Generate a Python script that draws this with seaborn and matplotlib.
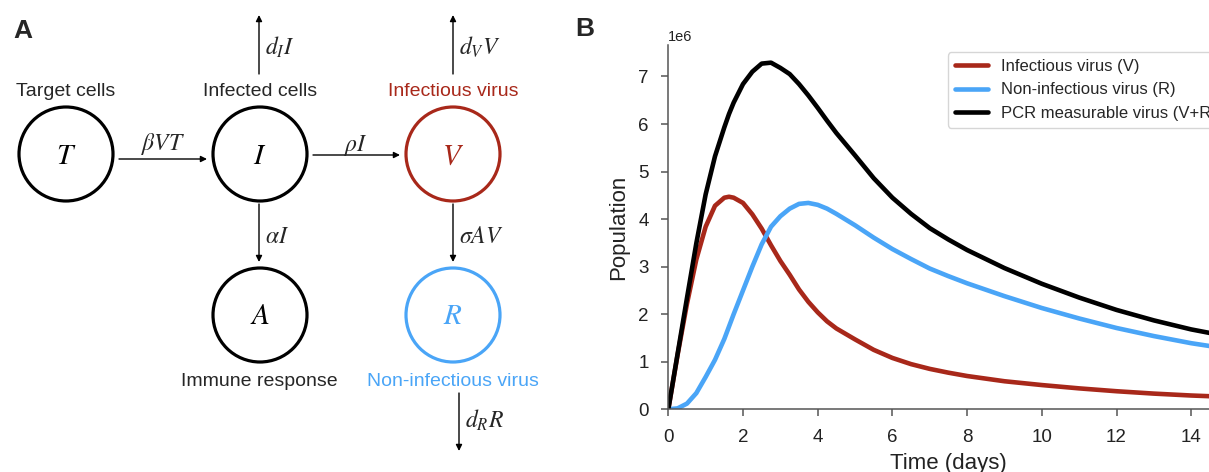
import numpy as np
import pandas as pd
import matplotlib
matplotlib.use("Agg")
import matplotlib.pyplot as plt
import seaborn as sns
from matplotlib.patches import Circle

# Viral load over time, in millions of virions
days = [0, 0.25, 0.5, 0.75, 1.0, 1.25, 1.5, 1.625, 1.75, 2.0, 2.25, 2.5, 2.75,
        3.0, 3.25, 3.5, 3.75, 4.0, 4.25, 4.5, 5.0, 5.5, 6.0, 6.5, 7.0, 7.5,
        8.0, 9.0, 10.0, 11.0, 12.0, 13.0, 14.0, 15.0]
infectious_virus = [0, 1.15, 2.22, 3.15, 3.84, 4.28, 4.45, 4.47, 4.45, 4.34,
                    4.10, 3.80, 3.45, 3.12, 2.83, 2.52, 2.26, 2.04, 1.85, 1.70,
                    1.47, 1.25, 1.08, 0.95, 0.85, 0.77, 0.70, 0.59, 0.51, 0.44,
                    0.38, 0.33, 0.29, 0.26]
noninfectious_virus = [0, 0.02, 0.12, 0.34, 0.68, 1.04, 1.48, 1.74, 2.00, 2.50,
                       3.00, 3.47, 3.84, 4.06, 4.22, 4.32, 4.34, 4.30, 4.22, 4.11,
                       3.87, 3.61, 3.37, 3.16, 2.96, 2.80, 2.65, 2.38, 2.13, 1.91,
                       1.71, 1.54, 1.39, 1.27]
series_names = ["Infectious virus (V)", "Non-infectious virus (R)",
                "PCR measurable virus (V+R)"]

RED = "#a8281a"
BLUE = "#4aa5f7"
BLACK = "#000000"

sns.set_style("ticks")
plt.rcParams["font.family"] = ["Liberation Sans", "DejaVu Sans"]
plt.rcParams["mathtext.fontset"] = "stix"

W, H = 1209, 472
fig = plt.figure(figsize=(W / 100, H / 100), dpi=100)

# ---------------- Panel A: compartment diagram (pixel coordinates) ----------
ax_a = fig.add_axes([0, 0, 1, 1])
ax_a.set_xlim(0, W)
ax_a.set_ylim(H, 0)
ax_a.axis("off")

R_CIRC = 47
nodes = {
    "T": ((66, 154), BLACK),
    "I": ((260, 154), BLACK),
    "V": ((453, 154), RED),
    "A": ((260, 315), BLACK),
    "R": ((453, 315), BLUE),
}
for name, ((cx, cy), col) in nodes.items():
    ax_a.add_patch(Circle((cx, cy), R_CIRC, fill=False, edgecolor=col, lw=2.3))
    ax_a.text(cx, cy + 9.5, f"${name}$", color=col, fontsize=21,
              ha="center", va="baseline")

name_fs = 14
ax_a.text(66, 96.5, "Target cells", fontsize=name_fs, ha="center", va="baseline")
ax_a.text(260, 96.5, "Infected cells", fontsize=name_fs, ha="center", va="baseline")
ax_a.text(453, 96.5, "Infectious virus", fontsize=name_fs, color=RED,
          ha="center", va="baseline")
ax_a.text(259, 385.5, "Immune response", fontsize=name_fs, ha="center", va="baseline")
ax_a.text(453, 385.5, "Non-infectious virus", fontsize=name_fs, color=BLUE,
          ha="center", va="baseline")


def arrow(x0, y0, x1, y1):
    ax_a.annotate("", xy=(x1, y1), xytext=(x0, y0),
                  arrowprops=dict(arrowstyle="-|>", color="black", lw=1.0,
                                  mutation_scale=9, shrinkA=0, shrinkB=0))


arrow(119, 159, 207, 159)   # T -> I
arrow(313, 155, 400, 155)   # I -> V
arrow(259, 74, 259, 15)     # I decay
arrow(453, 74, 453, 15)     # V decay
arrow(259, 204, 259, 262)   # I -> A
arrow(453, 204, 453, 262)   # V -> R
arrow(459, 393, 459, 451)   # R decay

rate_fs = 17
ax_a.text(163, 150, r"$\beta VT$", fontsize=rate_fs, ha="center", va="baseline")
ax_a.text(356, 151, r"$\rho I$", fontsize=rate_fs, ha="center", va="baseline")
ax_a.text(265, 55, r"$d_I I$", fontsize=rate_fs, ha="left", va="baseline")
ax_a.text(459, 55, r"$d_V V$", fontsize=rate_fs, ha="left", va="baseline")
ax_a.text(265, 243, r"$\alpha I$", fontsize=rate_fs, ha="left", va="baseline")
ax_a.text(459, 243, r"$\sigma AV$", fontsize=rate_fs, ha="left", va="baseline")
ax_a.text(465, 428, r"$d_R R$", fontsize=rate_fs, ha="left", va="baseline")

ax_a.text(13, 38.5, "A", fontsize=19, fontweight="bold", ha="left", va="baseline")
ax_a.text(575, 36, "B", fontsize=19, fontweight="bold", ha="left", va="baseline")

# ---------------- Panel B: viral dynamics ----------------------------------
v = np.array(infectious_virus) * 1e6
r = np.array(noninfectious_virus) * 1e6
frame = pd.DataFrame({
    "time": np.concatenate([days, days, days]),
    "population": np.concatenate([v, r, v + r]),
    "series": np.repeat(series_names, len(days)),
})

left, bottom = 668.3, 409.3
px_day, px_unit = 37.35, 47.55
x_max, y_max = 15.0, 7.66
ax_b = fig.add_axes([left / W, (H - bottom) / H,
                     x_max * px_day / W, y_max * px_unit / H])

sns.lineplot(data=frame, x="time", y="population", hue="series",
             hue_order=series_names, palette=[RED, BLUE, BLACK],
             linewidth=3.3, ax=ax_b, legend=True)
for line in ax_b.lines:
    line.set_solid_joinstyle("round")

ax_b.set_xlim(0, x_max)
ax_b.set_ylim(0, y_max * 1e6)
ax_b.set_xticks(np.arange(0, 15, 2))
ax_b.set_yticks(np.arange(0, 8, 1) * 1e6)
sns.despine(ax=ax_b)

spine_col = "#555555"
for side in ("left", "bottom"):
    ax_b.spines[side].set_color(spine_col)
    ax_b.spines[side].set_linewidth(1.1)
ax_b.tick_params(axis="both", length=5, width=1.1, pad=9, color=spine_col,
                 labelcolor="#222222", labelsize=13.5)
ax_b.yaxis.get_offset_text().set_fontsize(10.5)
ax_b.yaxis.get_offset_text().set_color("#222222")

ax_b.set_xlabel("Time (days)", fontsize=16, color="#222222", labelpad=5)
ax_b.set_ylabel("Population", fontsize=16, color="#222222", labelpad=6.5)

handles, labels = ax_b.get_legend_handles_labels()
leg = ax_b.legend(handles, labels, loc="upper left",
                  bbox_to_anchor=(948 / W, 1 - 52.5 / H),
                  bbox_transform=fig.transFigure, borderaxespad=0,
                  fontsize=12, labelspacing=0.5, handlelength=2.0,
                  handletextpad=0.8, frameon=True, fancybox=True)
leg.get_frame().set_edgecolor("#cccccc")
leg.get_frame().set_linewidth(1.0)
for line in leg.get_lines():
    line.set_linewidth(3.3)

fig.savefig("out.png", dpi=100)
